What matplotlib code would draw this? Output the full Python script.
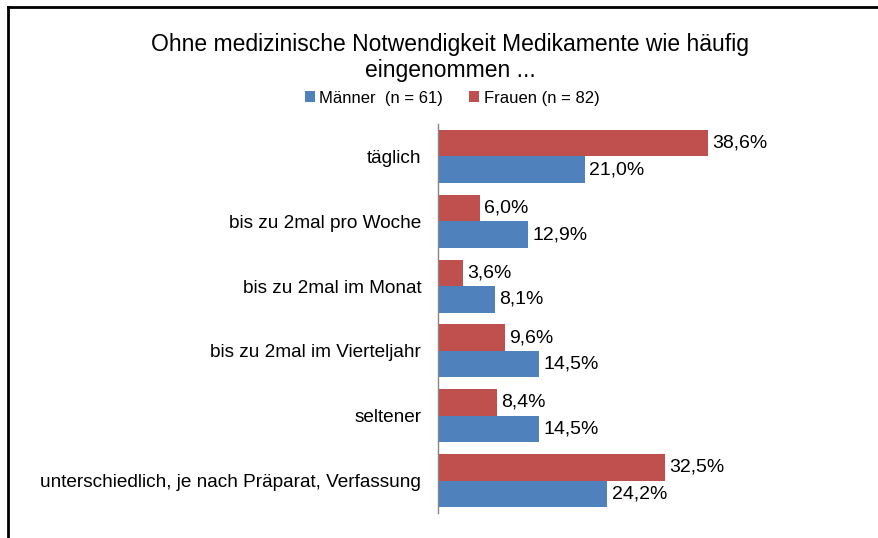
import matplotlib.pyplot as plt
from matplotlib.lines import Line2D
import numpy as np

plt.rcParams['font.family'] = ['Liberation Sans', 'DejaVu Sans']

categories = ["täglich", "bis zu 2mal pro Woche", "bis zu 2mal im Monat",
              "bis zu 2mal im Vierteljahr", "seltener",
              "unterschiedlich, je nach Präparat, Verfassung"]
maenner = [21.0, 12.9, 8.1, 14.5, 14.5, 24.2]
frauen = [38.6, 6.0, 3.6, 9.6, 8.4, 32.5]
series_labels = ["Männer  (n = 61)", "Frauen (n = 82)"]
colors = ["#4F81BD", "#C0504D"]

W, H = 879, 538
fig = plt.figure(figsize=(W / 100, H / 100), dpi=100)

# axes placed in pixel terms
ax = fig.add_axes([438 / W, (H - 513) / H, 350 / W, 389 / H])

y = np.arange(len(categories))
h = 0.41
ax.barh(y + h / 2, maenner, height=h, color=colors[0], label=series_labels[0])
ax.barh(y - h / 2, frauen, height=h, color=colors[1], label=series_labels[1])

for i in range(len(categories)):
    ax.text(maenner[i] + 0.6, y[i] + h / 2, f"{maenner[i]:.1f}%".replace(".", ","),
            va="center", ha="left", fontsize=14)
    ax.text(frauen[i] + 0.6, y[i] - h / 2, f"{frauen[i]:.1f}%".replace(".", ","),
            va="center", ha="left", fontsize=14)

ax.set_ylim(len(categories) - 0.5, -0.5)
ax.set_xlim(0, 50)
ax.set_yticks(y)
ax.set_yticklabels(categories, fontsize=13.7)
ax.tick_params(axis="y", length=0, pad=12)
ax.set_xticks([])
for s in ["top", "right", "bottom"]:
    ax.spines[s].set_visible(False)
ax.spines["left"].set_color("#868686")
ax.spines["left"].set_linewidth(1)

fig.text(450 / W, 1 - 44 / H, "Ohne medizinische Notwendigkeit Medikamente wie häufig",
         ha="center", va="center", fontsize=16.5)
fig.text(450 / W, 1 - 70 / H, "eingenommen ...", ha="center", va="center", fontsize=16.5)

handles, labels = ax.get_legend_handles_labels()
fig.legend(handles, labels, loc="center", bbox_to_anchor=(452 / W, 1 - 98 / H), ncol=2,
           frameon=False, fontsize=12, handlelength=0.6, handleheight=0.6,
           handletextpad=0.25, columnspacing=1.6)

# outer frame (partly cut off)
fig.add_artist(Line2D([8 / W, 1.0], [1 - 7 / H, 1 - 7 / H], color="black", lw=2,
                      transform=fig.transFigure))
fig.add_artist(Line2D([8 / W, 8 / W], [0, 1 - 7 / H], color="black", lw=2,
                      transform=fig.transFigure))

fig.savefig("out.png", dpi=100)
